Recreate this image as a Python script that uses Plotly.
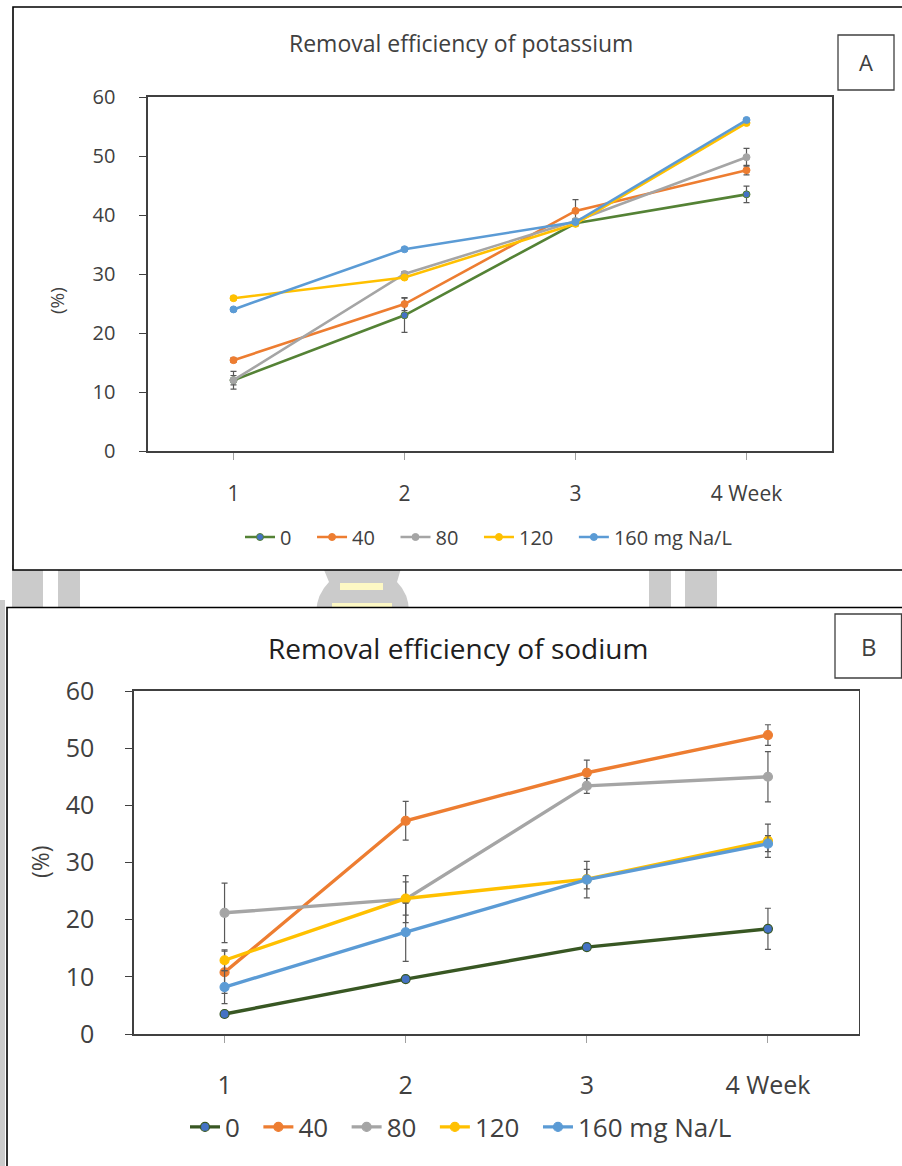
import plotly.graph_objects as go

W, H = 902, 1166


def px(x):
    return x / W


def py(y):
    return 1 - y / H


# ---------------- data ----------------
weeks = [1, 2, 3, 4]
week_labels = ["1", "2", "3", "4 Week"]
series_names = ["0", "40", "80", "120", "160 mg Na/L"]

# Panel A: removal efficiency of potassium (%)
k_0 = [12.0, 23.0, 38.6, 43.5]
k_40 = [15.4, 24.9, 40.7, 47.6]
k_80 = [12.0, 30.0, 39.0, 49.8]
k_120 = [25.9, 29.4, 38.5, 55.6]
k_160 = [24.0, 34.2, 38.8, 56.1]
k_0_err = [0.8, 2.9, 0.4, 1.4]
k_40_err = [0.4, 1.1, 1.9, 0.8]
k_80_err = [1.5, 0.4, 0.4, 1.5]
k_120_err = [0.3, 0.3, 0.3, 0.3]
k_160_err = [0.3, 0.3, 0.3, 0.3]

# Panel B: removal efficiency of sodium (%)
na_0 = [3.5, 9.6, 15.2, 18.4]
na_40 = [10.8, 37.3, 45.7, 52.3]
na_80 = [21.2, 23.6, 43.4, 45.0]
na_120 = [12.9, 23.7, 27.1, 33.8]
na_160 = [8.2, 17.8, 27.0, 33.3]
na_0_err = [0.4, 0.4, 0.4, 3.6]
na_40_err = [3.7, 3.4, 2.2, 1.8]
na_80_err = [5.2, 4.1, 1.3, 4.4]
na_120_err = [1.8, 2.9, 1.7, 2.9]
na_160_err = [2.9, 5.1, 3.2, 1.4]

k_series = [k_0, k_40, k_80, k_120, k_160]
k_errs = [k_0_err, k_40_err, k_80_err, k_120_err, k_160_err]
na_series = [na_0, na_40, na_80, na_120, na_160]
na_errs = [na_0_err, na_40_err, na_80_err, na_120_err, na_160_err]

# ---------------- style ----------------
FONT = "Open Sans"
TXT = "#404040"
NB = "\u00a0"
line_colors_a = ["#548235", "#ED7D31", "#A5A5A5", "#FFC000", "#5B9BD5"]
line_colors_b = ["#385723", "#ED7D31", "#A5A5A5", "#FFC000", "#5B9BD5"]
marker_fills = ["#4472C4", "#ED7D31", "#A5A5A5", "#FFC000", "#5B9BD5"]
ERR = "#595959"

fig = go.Figure()

for i, name in enumerate(series_names):
    fig.add_trace(go.Scatter(
        x=weeks, y=k_series[i], name=name + NB * 3, mode="lines+markers",
        line=dict(color=line_colors_a[i], width=2.6),
        marker=dict(size=7, color=marker_fills[i],
                    line=dict(color=line_colors_a[i], width=1)),
        error_y=dict(type="data", array=k_errs[i], color=ERR,
                     thickness=1.2, width=3),
        xaxis="x", yaxis="y", legend="legend",
    ))

for i, name in enumerate(series_names):
    fig.add_trace(go.Scatter(
        x=weeks, y=na_series[i], name=name + NB * 2, mode="lines+markers",
        line=dict(color=line_colors_b[i], width=3.4),
        marker=dict(size=9, color=marker_fills[i],
                    line=dict(color=line_colors_b[i], width=1.2)),
        error_y=dict(type="data", array=na_errs[i], color=ERR,
                     thickness=1.2, width=3),
        xaxis="x2", yaxis="y2", legend="legend2",
    ))

axis_common = dict(showline=True, linecolor="#404040", linewidth=1.6,
                   mirror=True, showgrid=False, zeroline=False,
                   ticks="outside", ticklen=7, automargin=False)

fig.update_layout(
    width=W, height=H,
    margin=dict(l=0, r=0, t=0, b=0, pad=0, autoexpand=False),
    paper_bgcolor="white",
    plot_bgcolor="rgba(0,0,0,0)",
    font=dict(family=FONT, color=TXT),
    xaxis=dict(domain=[px(148), px(832)], anchor="y", range=[0.5, 4.5],
               tickvals=weeks, ticktext=week_labels, tickcolor="#a0a0a0",
               tickfont=dict(size=21, color=TXT), ticklabelstandoff=16,
               **axis_common),
    yaxis=dict(domain=[py(451), py(97)], anchor="x", range=[0, 60],
               dtick=10, tickcolor="#404040",
               tickfont=dict(size=20, color=TXT), ticklabelstandoff=20,
               **axis_common),
    xaxis2=dict(domain=[px(134), px(858.5)], anchor="y2", range=[0.5, 4.5],
                tickvals=weeks, ticktext=week_labels, tickcolor="#a0a0a0",
                tickfont=dict(size=25, color=TXT), ticklabelstandoff=21,
                **axis_common),
    yaxis2=dict(domain=[py(1034), py(691)], anchor="x2", range=[0, 60],
                dtick=10, tickcolor="#404040",
                tickfont=dict(size=25, color=TXT), ticklabelstandoff=26,
                **axis_common),
    legend=dict(orientation="h", x=px(240), y=py(537), xanchor="left",
                yanchor="middle", font=dict(size=20, color=TXT),
                bgcolor="rgba(0,0,0,0)"),
    legend2=dict(orientation="h", x=px(185), y=py(1127), xanchor="left",
                 yanchor="middle", font=dict(size=26, color=TXT),
                 bgcolor="rgba(0,0,0,0)"),
)

shapes = []
GRAY = "#cbcbcb"
YEL = "#fdf8c4"
# background watermark (partly visible between the panels)
for x0, x1 in [(12, 43), (58, 80), (649, 671), (685, 717)]:
    shapes.append(dict(type="rect", xref="paper", yref="paper",
                       x0=px(x0), x1=px(x1), y0=py(612), y1=py(565),
                       fillcolor=GRAY, line=dict(width=0), layer="below"))
shapes.append(dict(type="rect", xref="paper", yref="paper",
                   x0=px(-5), x1=px(5), y0=py(1170), y1=py(600),
                   fillcolor=GRAY, line=dict(width=0), layer="below"))
logo = (f"M {px(322)},{py(565)} L {px(402)},{py(565)} L {px(397)},{py(582)} "
        f"Q {px(409)},{py(594)} {px(409)},{py(612)} L {px(316)},{py(612)} "
        f"Q {px(317)},{py(594)} {px(329)},{py(582)} Z")
shapes.append(dict(type="path", xref="paper", yref="paper", path=logo,
                   fillcolor=GRAY, line=dict(width=0), layer="below"))
for x0, x1, y0, y1 in [(340, 383, 583, 590), (332, 392, 603, 612)]:
    shapes.append(dict(type="rect", xref="paper", yref="paper",
                       x0=px(x0), x1=px(x1), y0=py(y1), y1=py(y0),
                       fillcolor=YEL, line=dict(width=0), layer="below"))
# panel frames
shapes.append(dict(type="rect", xref="paper", yref="paper",
                   x0=px(13), x1=px(910), y0=py(570), y1=py(7),
                   fillcolor="white", line=dict(color="black", width=1.6),
                   layer="below"))
shapes.append(dict(type="rect", xref="paper", yref="paper",
                   x0=px(7), x1=px(910), y0=py(1175), y1=py(607.5),
                   fillcolor="white", line=dict(color="black", width=1.6),
                   layer="below"))
# A / B label boxes
shapes.append(dict(type="rect", xref="paper", yref="paper",
                   x0=px(838), x1=px(894), y0=py(90), y1=py(35),
                   fillcolor="white", line=dict(color="#404040", width=1.3)))
shapes.append(dict(type="rect", xref="paper", yref="paper",
                   x0=px(835), x1=px(901.5), y0=py(678), y1=py(614),
                   fillcolor="white", line=dict(color="#404040", width=1.3)))
fig.update_layout(shapes=shapes)

ann = [
    dict(text="Removal efficiency of potassium", x=px(461), y=py(43),
         font=dict(size=23, color=TXT)),
    dict(text="Removal efficiency of sodium", x=px(458), y=py(648),
         font=dict(size=28, color="#202020")),
    dict(text="(%)", x=px(57), y=py(300), textangle=-90,
         font=dict(size=19, color=TXT)),
    dict(text="(%)", x=px(40), y=py(862), textangle=-90,
         font=dict(size=23, color=TXT)),
    dict(text="A", x=px(866), y=py(62.5), font=dict(size=22, color=TXT)),
    dict(text="B", x=px(868.5), y=py(646), font=dict(size=24, color=TXT)),
]
for a in ann:
    a.update(xref="paper", yref="paper", showarrow=False,
             xanchor="center", yanchor="middle")
fig.update_layout(annotations=ann)

fig.write_html("out.html",
               config={"displayModeBar": False, "staticPlot": True},
               post_script="document.body.style.margin='0px';"
                           "document.body.style.overflow='hidden';")
